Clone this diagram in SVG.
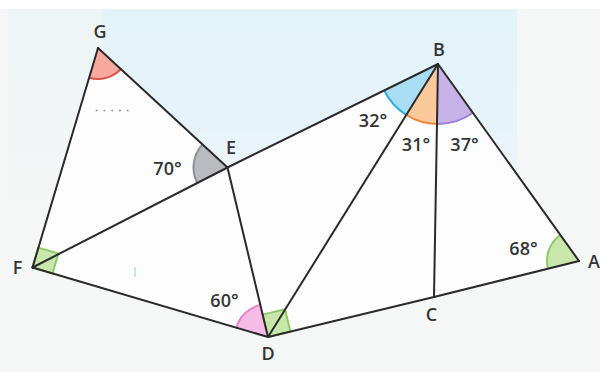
<svg xmlns="http://www.w3.org/2000/svg" width="600" height="372" viewBox="0 0 600 372">
  <defs>
    <linearGradient id="skyFade" x1="0" y1="0" x2="0" y2="1">
      <stop offset="0" stop-color="#e3f3fa"/>
      <stop offset="0.6" stop-color="#e6f4fa"/>
      <stop offset="1" stop-color="#f5f6f6"/>
    </linearGradient>
    <linearGradient id="leftFade" x1="0" y1="0" x2="0" y2="1">
      <stop offset="0" stop-color="#eef4f6"/>
      <stop offset="0.5" stop-color="#f1f5f6"/>
      <stop offset="1" stop-color="#f5f6f6"/>
    </linearGradient>
    <style>
      .lbl { font-family: "Open Sans", "Noto Sans", "DejaVu Sans", sans-serif; font-size: 18px; font-weight: 600; fill: #353535; text-anchor: middle; }
      .seg { stroke: #2a2a2a; stroke-width: 2; fill: none; stroke-linecap: round; stroke-linejoin: round; }
      .arc { fill: none; stroke-width: 2; }
    </style>
  </defs>

  <!-- background -->
  <rect x="0" y="0" width="600" height="372" fill="#f5f6f6"/>
  <rect x="0" y="0" width="600" height="9" fill="#ffffff"/>
  <rect x="8" y="9" width="95" height="200" fill="url(#leftFade)"/>
  <rect x="103" y="9" width="414" height="200" fill="url(#skyFade)"/>
  <polygon points="98,48 227.5,167.5 438,64 579,261 434,297 268,337 32.5,267.5" fill="#fdfdfd"/>

  <!-- angle markers -->
  <g id="angles">
    <!-- G -->
    <path d="M98,48 L120.8,69 A31,31 0 0 1 89.1,77.7 Z" fill="#f6a99c"/>
    <path d="M120.8,69 A31,31 0 0 1 89.1,77.7" class="arc" stroke="#e0534b"/>
    <!-- E 70° -->
    <path d="M227.5,167.5 L197.25,183 A34,34 0 0 1 202.5,144.4 Z" fill="#b9bbc1"/>
    <path d="M197.25,183 A34,34 0 0 1 202.5,144.4" class="arc" stroke="#8f9198"/>
    <!-- B 37° purple -->
    <path d="M438,64 L472.9,112.8 A60,60 0 0 1 437,124 Z" fill="#c7b3e8"/>
    <path d="M472.9,112.8 A60,60 0 0 1 437,124" class="arc" stroke="#9b7fd3"/>
    <!-- B 31° orange -->
    <path d="M438,64 L437,124 A60,60 0 0 1 406.3,114.9 Z" fill="#fcc99c"/>
    <path d="M437,124 A60,60 0 0 1 406.3,114.9" class="arc" stroke="#ef8a3e"/>
    <!-- B 32° blue -->
    <path d="M438,64 L406.3,114.9 A60,60 0 0 1 384.2,90.5 Z" fill="#a9ddf3"/>
    <path d="M406.3,114.9 A60,60 0 0 1 384.2,90.5" class="arc" stroke="#2fabdd"/>
    <!-- A 68° -->
    <path d="M579,261 L547.9,268.7 A32,32 0 0 1 560.4,235 Z" fill="#c9e7ab"/>
    <path d="M547.9,268.7 A32,32 0 0 1 560.4,235" class="arc" stroke="#8fca68"/>
    <!-- D 60° pink -->
    <path d="M268,337 L236.35,327.66 A33,33 0 0 1 260.33,304.9 Z" fill="#f6bce6"/>
    <path d="M236.35,327.66 A33,33 0 0 1 260.33,304.9" class="arc" stroke="#e682d0"/>
    <!-- D right angle -->
    <polygon points="268,337 262.6,314.6 285,309.2 290.4,331.6" fill="#c9e7ab" stroke="#8fca68" stroke-width="2" stroke-linejoin="round"/>
    <!-- F right angle -->
    <polygon points="32.5,267.5 38.3,247.6 58.4,253.5 52.5,273.6" fill="#c9e7ab" stroke="#8fca68" stroke-width="2" stroke-linejoin="round"/>
  </g>

  <!-- connectors (segments) -->
  <g id="segments" class="seg">
    <line x1="98" y1="48" x2="32.5" y2="267.5"/>
    <line x1="98" y1="48" x2="227.5" y2="167.5"/>
    <line x1="32.5" y1="267.5" x2="227.5" y2="167.5"/>
    <line x1="227.5" y1="167.5" x2="438" y2="64"/>
    <line x1="227.5" y1="167.5" x2="268" y2="337"/>
    <line x1="32.5" y1="267.5" x2="268" y2="337"/>
    <line x1="268" y1="337" x2="438" y2="64"/>
    <line x1="438" y1="64" x2="434" y2="297"/>
    <line x1="438" y1="64" x2="579" y2="261"/>
    <line x1="268" y1="337" x2="434" y2="297"/>
    <line x1="434" y1="297" x2="579" y2="261"/>
  </g>

  <!-- faint marks -->
  <g id="marks">
    <circle cx="96.7" cy="110.5" r="1.1" fill="#a99b9b"/>
    <circle cx="104.4" cy="110.5" r="1.1" fill="#a99b9b"/>
    <circle cx="112.2" cy="110.5" r="1.1" fill="#a99b9b"/>
    <circle cx="120" cy="110.5" r="1.1" fill="#a99b9b"/>
    <circle cx="127.7" cy="110.5" r="1.1" fill="#a99b9b"/>
    <line x1="135" y1="267" x2="135" y2="277" stroke="#a7dbd3" stroke-width="1.2"/>
  </g>

  <!-- point labels -->
  <g id="node-G"><text class="lbl" x="100" y="38">G</text></g>
  <g id="node-E"><text class="lbl" x="231" y="154">E</text></g>
  <g id="node-B"><text class="lbl" x="439" y="56">B</text></g>
  <g id="node-F"><text class="lbl" x="17.5" y="274">F</text></g>
  <g id="node-D"><text class="lbl" x="268" y="360">D</text></g>
  <g id="node-C"><text class="lbl" x="431.5" y="321">C</text></g>
  <g id="node-A"><text class="lbl" x="588" y="268" style="text-anchor:start">A</text></g>

  <!-- angle labels -->
  <g id="angle-labels">
    <text class="lbl" x="167.5" y="175">70°</text>
    <text class="lbl" x="373" y="127">32°</text>
    <text class="lbl" x="416" y="151">31°</text>
    <text class="lbl" x="464.5" y="151">37°</text>
    <text class="lbl" x="224.5" y="307">60°</text>
    <text class="lbl" x="523.5" y="255">68°</text>
  </g>
</svg>
